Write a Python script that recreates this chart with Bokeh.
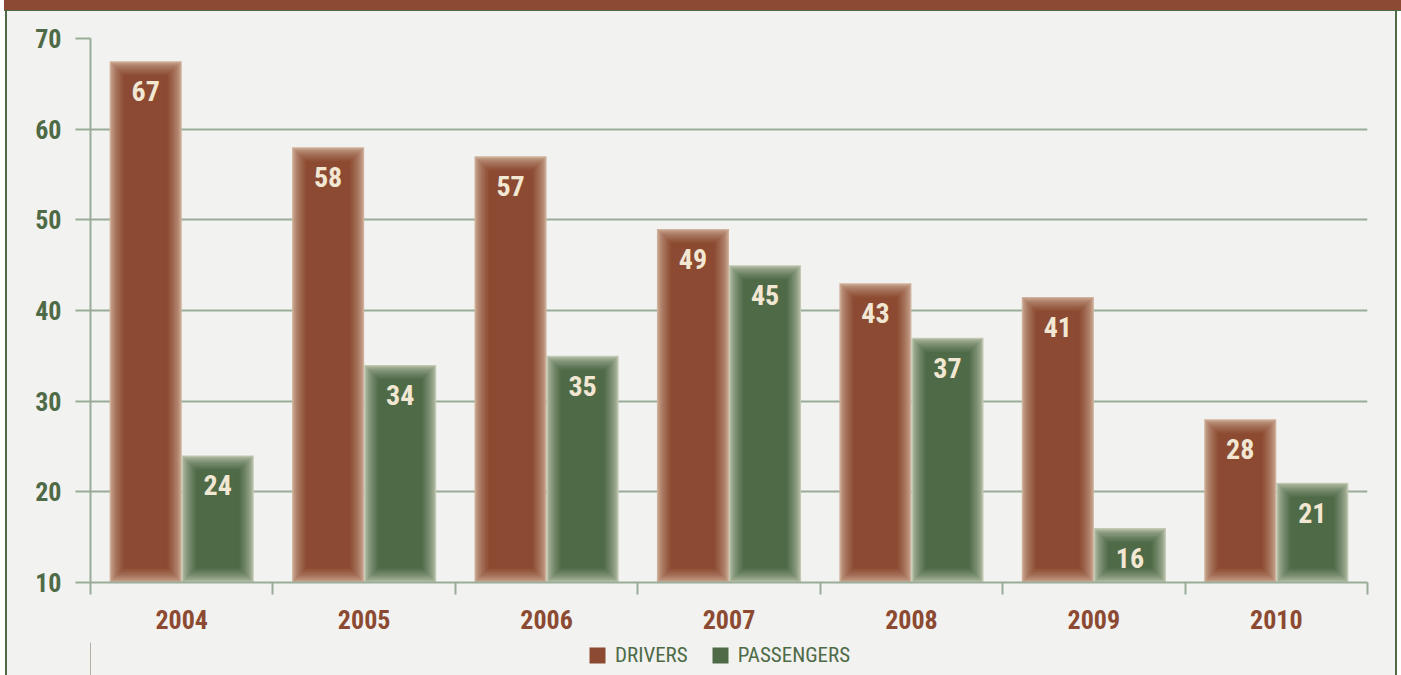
from bokeh.plotting import figure
from bokeh.models import (ColumnDataSource, FixedTicker, LinearAxis, Legend, LegendItem,
                          Range1d, Div)
from bokeh.layouts import column, row
from bokeh.core.properties import value
from bokeh.embed import file_html
from bokeh.resources import INLINE

years = ["2004", "2005", "2006", "2007", "2008", "2009", "2010"]
drivers = [67.5, 58, 57, 49, 43, 41.5, 28]
passengers = [24, 34, 35, 45, 37, 16, 21]
driver_labels = ["67", "58", "57", "49", "43", "41", "28"]
passenger_labels = ["24", "34", "35", "45", "37", "16", "21"]
y_ticks = [10, 20, 30, 40, 50, 60, 70]
series = ["DRIVERS", "PASSENGERS"]

BG = "#f2f2f0"
BROWN = "#8b4a31"
GREEN = "#4f6a47"
AXIS = "#9aab98"
CREAM = "#f1e7d3"
FONT = "Roboto Condensed"

W, H, H2 = 1388, 631, 34
p = figure(width=W, height=H, output_backend="svg", toolbar_location=None,
           x_range=Range1d(0, len(years)), y_range=Range1d(10, 70),
           min_border_left=83, min_border_right=28, min_border_top=27, min_border_bottom=60,
           background_fill_color=BG, border_fill_color=BG, outline_line_color=None,
           margin=0, styles={"background-color": BG})

n = len(years)
centers = [i + 0.5 for i in range(n)]
bw = 0.395
off = 0.1975

def mix(c1, c2, t):
    a = [int(c1[i:i + 2], 16) for i in (1, 3, 5)]
    b = [int(c2[i:i + 2], 16) for i in (1, 3, 5)]
    return "#%02x%02x%02x" % tuple(round(a[k] + (b[k] - a[k]) * t) for k in range(3))

layers = 12
px_x = 1.0 / 182.4
px_y = 1.0 / 9.07

def fuzzy_bars(xs, tops, edge, core):
    for k in range(layers):
        t = (k / (layers - 1)) ** 0.6
        inset = k * 1.3
        src = ColumnDataSource(dict(
            x=xs,
            top=[v - inset * px_y for v in tops],
            bottom=[10 + inset * px_y for _ in tops]))
        p.vbar(x="x", top="top", bottom="bottom", width=bw - 2 * inset * px_x, source=src,
               fill_color=mix(edge, core, t), line_color=None)

fuzzy_bars([c - off for c in centers], drivers, "#d0b29c", BROWN)
fuzzy_bars([c + off for c in centers], passengers, "#c2c9b3", GREEN)

lab = ColumnDataSource(dict(
    x=[c - off for c in centers] + [c + off for c in centers],
    y=[v - 3.3 for v in drivers] + [v - 3.3 for v in passengers],
    t=driver_labels + passenger_labels))
p.text(x="x", y="y", text="t", source=lab, text_align="center", text_baseline="middle",
       text_color=CREAM, text_font_size="28px", text_font_style="bold",
       text_font=value(FONT))

# axes
p.xaxis.visible = False
p.below = []
ax_ticks = LinearAxis(ticker=FixedTicker(ticks=list(range(n + 1))),
                      axis_line_color=AXIS, axis_line_width=2,
                      major_tick_line_color=AXIS, major_tick_line_width=2,
                      major_tick_out=12, major_tick_in=0,
                      minor_tick_line_color=None,
                      major_label_text_font_size="0px", major_label_standoff=0,
                      major_label_overrides={i: "" for i in range(n + 1)})
ax_years = LinearAxis(ticker=FixedTicker(ticks=centers),
                      axis_line_color=None, major_tick_line_color=None,
                      minor_tick_line_color=None,
                      major_label_overrides={c: y for c, y in zip(centers, years)},
                      major_label_text_font_size="26px", major_label_text_font_style="bold",
                      major_label_text_color=BROWN, major_label_text_font=FONT,
                      major_label_standoff=9)
p.add_layout(ax_ticks, "below")
p.add_layout(ax_years, "below")

p.yaxis.ticker = FixedTicker(ticks=y_ticks)
p.yaxis.axis_line_color = AXIS
p.yaxis.axis_line_width = 2
p.yaxis.major_tick_line_color = AXIS
p.yaxis.major_tick_line_width = 2
p.yaxis.major_tick_out = 15
p.yaxis.major_tick_in = 0
p.yaxis.minor_tick_line_color = None
p.yaxis.major_label_standoff = 14
p.yaxis.major_label_text_font_size = "26px"
p.yaxis.major_label_text_font_style = "bold"
p.yaxis.major_label_text_color = GREEN
p.yaxis.major_label_text_font = FONT

p.xgrid.visible = False
p.ygrid.ticker = FixedTicker(ticks=y_ticks[1:-1])
p.ygrid.grid_line_color = AXIS
p.ygrid.grid_line_width = 2

# legend strip: a second figure under the chart, with no axes
p2 = figure(width=W, height=H2, output_backend="svg", toolbar_location=None,
            x_range=Range1d(0, 1), y_range=Range1d(0, 1),
            x_axis_location=None, y_axis_location=None,
            min_border_left=83, min_border_right=28, min_border_top=0, min_border_bottom=0,
            background_fill_color=BG, border_fill_color=BG,
            outline_line_color=None, margin=0, styles={"background-color": BG})
p2.grid.visible = False
r_d = p2.vbar(x=[-5], top=[1], bottom=[0], width=0.1, fill_color=BROWN, line_color=None)
r_p = p2.vbar(x=[-5], top=[1], bottom=[0], width=0.1, fill_color=GREEN, line_color=None)
leg = Legend(items=[LegendItem(label=series[0], renderers=[r_d]),
                    LegendItem(label=series[1], renderers=[r_p])],
             orientation="horizontal", location=(497, 9),
             background_fill_alpha=0, border_line_color=None,
             label_text_font_size="21px", label_text_color=GREEN,
             label_text_font=FONT, label_height=20,
             glyph_width=20, glyph_height=20, spacing=22, label_standoff=8,
             padding=0, margin=0)
p2.add_layout(leg, "center")

band = Div(width=1397, height=11, margin=(0, 0, 0, 4),
           styles={"background-color": BROWN, "border-bottom": "1px solid " + GREEN,
                   "box-sizing": "border-box"})
left_b = Div(width=2, height=H + H2, margin=(0, 0, 0, 5), styles={"background-color": GREEN})
right_b = Div(width=2, height=H + H2, margin=0, styles={"background-color": GREEN})
inner = column(p, p2, spacing=0, margin=0, styles={"background-color": BG})
layout = column(band, row(left_b, inner, right_b, spacing=0, margin=0),
                spacing=0, margin=0)

open("out.html", "w").write(file_html(layout, INLINE))
